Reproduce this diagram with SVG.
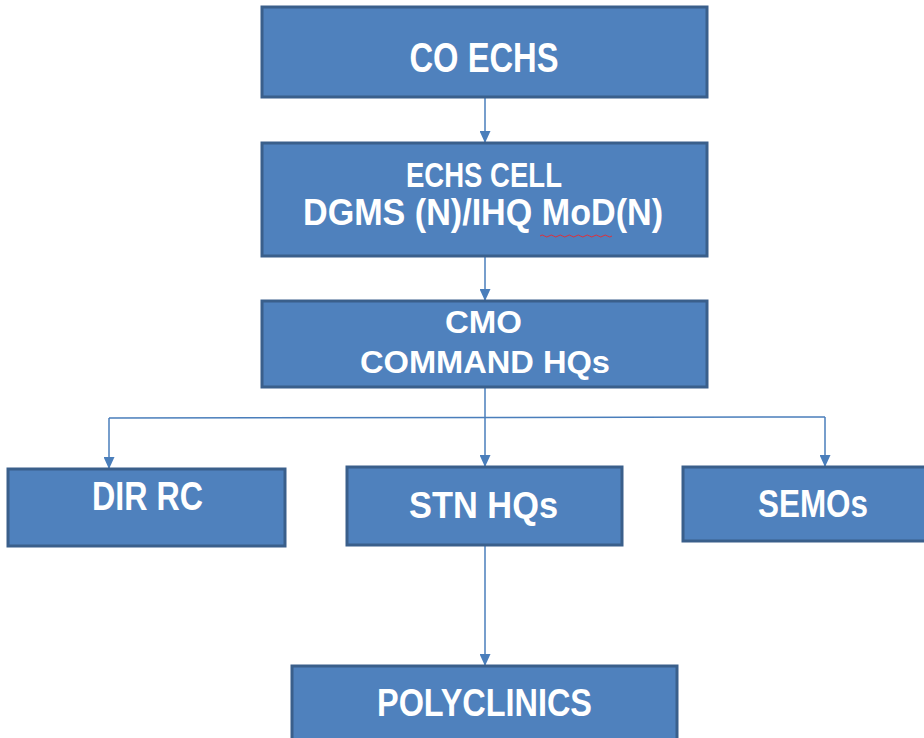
<svg xmlns="http://www.w3.org/2000/svg" width="924" height="738" viewBox="0 0 924 738">
<style>
.box{fill:#4F81BD;stroke:#3A5F8B;stroke-width:3}
.lbl{fill:#FFFFFF;font-family:"Liberation Sans",Arial,sans-serif;font-weight:bold;text-anchor:middle}
.con{fill:none;stroke:#4A7EBB;stroke-width:1.5}
</style>
<defs>
<marker id="ah" markerUnits="userSpaceOnUse" markerWidth="12" markerHeight="11" refX="12" refY="5.5" orient="auto">
<path d="M0,0 L12,5.5 L0,11 z" fill="#4A7EBB"/>
</marker>
</defs>
<rect width="924" height="738" fill="#FFFFFF"/>
<g id="connectors">
<line class="con" x1="485" y1="97" x2="485" y2="143" marker-end="url(#ah)"/>
<line class="con" x1="485" y1="256" x2="485" y2="301" marker-end="url(#ah)"/>
<line class="con" x1="485" y1="387" x2="485" y2="467" marker-end="url(#ah)"/>
<path class="con" d="M109,418 L825,417"/>
<line class="con" x1="109" y1="418" x2="109" y2="469" marker-end="url(#ah)"/>
<line class="con" x1="825" y1="417" x2="825" y2="467" marker-end="url(#ah)"/>
<line class="con" x1="485" y1="545" x2="485" y2="666" marker-end="url(#ah)"/>
</g>
<g id="co-echs">
<rect class="box" x="262" y="7" width="445" height="90"/>
<text class="lbl" x="484" y="72" font-size="42" textLength="149" lengthAdjust="spacingAndGlyphs">CO ECHS</text>
</g>
<g id="echs-cell">
<rect class="box" x="262" y="143" width="445" height="113"/>
<text class="lbl" x="484" y="187" font-size="35" textLength="156" lengthAdjust="spacingAndGlyphs">ECHS CELL</text>
<text class="lbl" x="483" y="225" font-size="37" textLength="360" lengthAdjust="spacingAndGlyphs">DGMS (N)/IHQ MoD(N)</text>
<path d="M540,236 q2.25,-2 4.5,0 t4.5,0 t4.5,0 t4.5,0 t4.5,0 t4.5,0 t4.5,0 t4.5,0 t4.5,0 t4.5,0 t4.5,0 t4.5,0 t4.5,0 t4.5,0 t4.5,0 t4.5,0" fill="none" stroke="#E0303A" stroke-width="1"/>
</g>
<g id="cmo">
<rect class="box" x="262" y="301" width="445" height="86"/>
<text class="lbl" x="483.5" y="333" font-size="32" textLength="77" lengthAdjust="spacingAndGlyphs">CMO</text>
<text class="lbl" x="485" y="373" font-size="32" textLength="250" lengthAdjust="spacingAndGlyphs">COMMAND HQs</text>
</g>
<g id="dir-rc">
<rect class="box" x="8" y="469" width="277" height="77"/>
<text class="lbl" x="147.5" y="510" font-size="40" textLength="111" lengthAdjust="spacingAndGlyphs">DIR RC</text>
</g>
<g id="stn-hqs">
<rect class="box" x="347" y="467" width="275" height="78"/>
<text class="lbl" x="483.5" y="518" font-size="37" textLength="149" lengthAdjust="spacingAndGlyphs">STN HQs</text>
</g>
<g id="semos">
<rect class="box" x="683" y="467" width="250" height="74"/>
<text class="lbl" x="813" y="517" font-size="39" textLength="110" lengthAdjust="spacingAndGlyphs">SEMOs</text>
</g>
<g id="polyclinics">
<rect class="box" x="292" y="666" width="385" height="80"/>
<text class="lbl" x="484.5" y="716" font-size="38" textLength="215" lengthAdjust="spacingAndGlyphs">POLYCLINICS</text>
</g>
</svg>
